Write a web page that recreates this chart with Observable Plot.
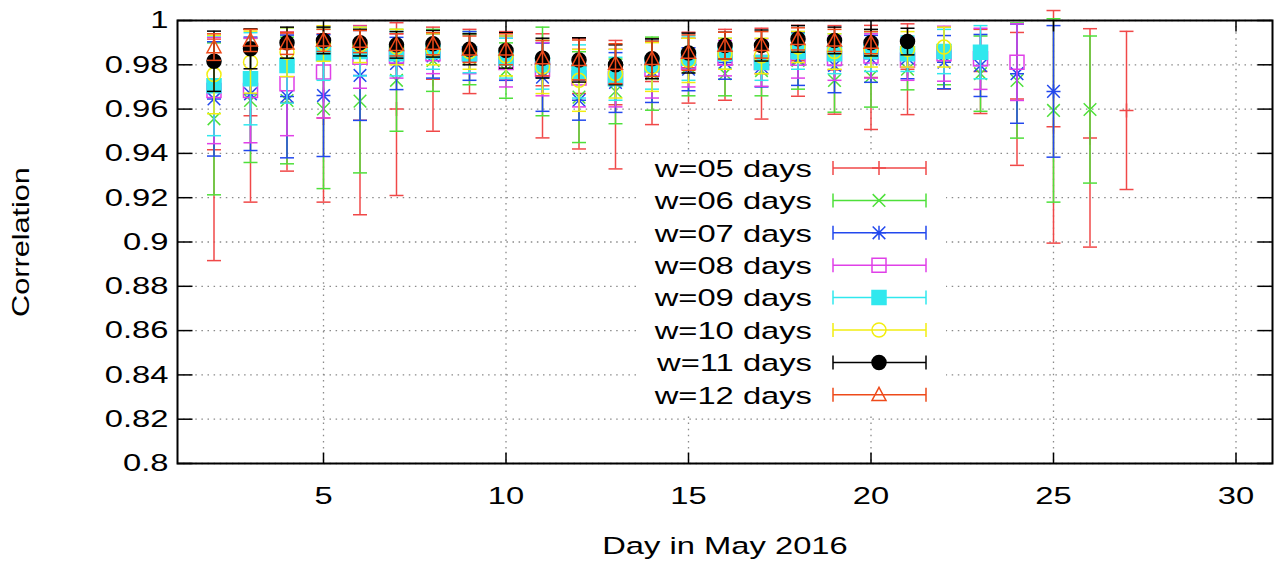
<!DOCTYPE html>
<html><head><meta charset="utf-8">
<script src="https://cdn.jsdelivr.net/npm/d3@7"></script>
<script src="https://cdn.jsdelivr.net/npm/@observablehq/plot@0.6"></script>
<style>html,body{margin:0;padding:0;background:#fff}#chart svg{display:block}</style>
</head><body><div id="chart"></div><script>
// ---------------- data ----------------
const days = [2,3,4,5,6,7,8,9,10,11,12,13,14,15,16,17,18,19,20,21,22,23,24,25,26,27];
const xTicks = [5,10,15,20,25,30];
const yTicks = [0.8,0.82,0.84,0.86,0.88,0.9,0.92,0.94,0.96,0.98,1];
const seriesNames = ["w=05 days","w=06 days","w=07 days","w=08 days","w=09 days","w=10 days","w=11 days","w=12 days"];
const seriesColors = ["#f04848","#4ee03a","#2248ee","#e040e8","#30e8ee","#f2ee10","#000000","#ee4a1a"];

const mean05 = [0.9416,0.957,0.963,0.956,0.955,0.960,0.9735,0.9815,0.984,0.9705,0.967,0.962,0.9725,0.9787,0.980,0.976,0.9818,0.9777,0.9743,0.978,0.983,0.977,0.9646,0.952,0.947,0.9594];
const err05  = [0.050,0.039,0.031,0.038,0.0427,0.039,0.0235,0.0145,0.011,0.0235,0.025,0.029,0.0195,0.016,0.016,0.0205,0.016,0.020,0.0235,0.0205,0.014,0.019,0.030,0.0525,0.0493,0.0357];
const mean06 = [0.9556,0.9639,0.9639,0.9601,0.9636,0.973,0.982,0.983,0.9774,0.977,0.9654,0.968,0.976,0.979,0.976,0.9774,0.982,0.9729,0.9747,0.978,0.984,0.976,0.9729,0.9594,0.9598];
const err06  = [0.0343,0.028,0.0286,0.036,0.0324,0.023,0.014,0.012,0.0125,0.020,0.0205,0.0146,0.0165,0.013,0.010,0.0114,0.013,0.0143,0.0138,0.0093,0.013,0.017,0.026,0.0414,0.0332];
const mean07 = [0.9646,0.9669,0.9657,0.9661,0.9752,0.9806,0.984,0.984,0.983,0.9744,0.964,0.972,0.977,0.978,0.981,0.979,0.9827,0.9797,0.9827,0.983,0.9812,0.9797,0.976,0.968];
const err07  = [0.0258,0.0256,0.0277,0.0275,0.0203,0.0118,0.010,0.011,0.010,0.0154,0.009,0.0135,0.014,0.0097,0.0075,0.009,0.012,0.0123,0.0106,0.0093,0.012,0.014,0.0224,0.0297];
const mean08 = [0.9684,0.9684,0.9714,0.9767,0.9834,0.984,0.985,0.985,0.981,0.978,0.974,0.974,0.978,0.981,0.983,0.981,0.983,0.983,0.984,0.982,0.985,0.9827,0.9812];
const err08  = [0.024,0.0236,0.0234,0.0207,0.014,0.010,0.009,0.009,0.011,0.012,0.013,0.013,0.013,0.011,0.008,0.0107,0.009,0.010,0.010,0.009,0.0124,0.0138,0.0173];
const mean09 = [0.9705,0.9737,0.9797,0.985,0.986,0.985,0.986,0.985,0.983,0.980,0.977,0.9737,0.980,0.983,0.985,0.981,0.986,0.985,0.986,0.985,0.986,0.9857];
const err09  = [0.0225,0.0208,0.017,0.012,0.011,0.010,0.008,0.0086,0.009,0.011,0.012,0.0097,0.011,0.010,0.007,0.008,0.008,0.009,0.009,0.008,0.010,0.012];
const mean10 = [0.9756,0.9812,0.9857,0.9896,0.989,0.988,0.987,0.986,0.984,0.979,0.973,0.976,0.979,0.982,0.985,0.984,0.988,0.986,0.987,0.987,0.988];
const err10  = [0.0177,0.014,0.011,0.008,0.008,0.008,0.007,0.008,0.009,0.012,0.014,0.011,0.011,0.010,0.007,0.008,0.007,0.008,0.008,0.008,0.009];
const mean11 = [0.9816,0.9872,0.990,0.991,0.990,0.989,0.9895,0.987,0.9865,0.983,0.9822,0.980,0.9827,0.9853,0.9887,0.9887,0.9917,0.991,0.990,0.9905];
const err11  = [0.0136,0.009,0.007,0.006,0.006,0.006,0.006,0.007,0.008,0.009,0.010,0.009,0.009,0.009,0.006,0.007,0.006,0.006,0.006,0.006];
const mean12 = [0.988,0.991,0.9897,0.991,0.9905,0.989,0.9895,0.987,0.987,0.983,0.9822,0.9805,0.9827,0.9855,0.9887,0.989,0.9917,0.991,0.990];
const err12  = [0.006,0.005,0.005,0.005,0.005,0.005,0.005,0.006,0.007,0.008,0.009,0.009,0.008,0.008,0.006,0.006,0.005,0.005,0.005];

const seriesMeans = [mean05,mean06,mean07,mean08,mean09,mean10,mean11,mean12];
const seriesErrs  = [err05,err06,err07,err08,err09,err10,err11,err12];

// ---------------- symbols ----------------
const H = 7;
const symPlus  = {draw(c){c.moveTo(-H,0);c.lineTo(H,0);c.moveTo(0,-H);c.lineTo(0,H);}};
const symTimes = {draw(c){const h=H*0.9;c.moveTo(-h,-h);c.lineTo(h,h);c.moveTo(-h,h);c.lineTo(h,-h);}};
const symStar  = {draw(c){const h=H*0.9;c.moveTo(-h,-h);c.lineTo(h,h);c.moveTo(-h,h);c.lineTo(h,-h);c.moveTo(-H,0);c.lineTo(H,0);c.moveTo(0,-H);c.lineTo(0,H);}};
const symSquare= {draw(c){c.moveTo(-H,-H);c.lineTo(H,-H);c.lineTo(H,H);c.lineTo(-H,H);c.closePath();}};
const symCircle= {draw(c){c.moveTo(H,0);c.arc(0,0,H,0,2*Math.PI);c.closePath();}};
const symTri   = {draw(c){c.moveTo(0,-H*1.05);c.lineTo(H,H*0.8);c.lineTo(-H,H*0.8);c.closePath();}};
const symCap   = {draw(c){c.moveTo(-7,0);c.lineTo(7,0);}};
const symVCap  = {draw(c){c.moveTo(0,-7);c.lineTo(0,7);}};
const tickBottom = {draw(c){c.moveTo(0,0);c.lineTo(0,-11);}};
const tickTop    = {draw(c){c.moveTo(0,0);c.lineTo(0,11);}};
const tickLeft   = {draw(c){c.moveTo(0,0);c.lineTo(15,0);}};
const tickRight  = {draw(c){c.moveTo(0,0);c.lineTo(-15,0);}};

const seriesSymbols = [symPlus,symTimes,symStar,symSquare,symSquare,symCircle,symCircle,symTri];
const seriesFilled  = [false,false,false,false,true,false,true,false];

// ---------------- marks ----------------
const grid = {stroke:"#8a8a8a", strokeWidth:1.3, strokeDasharray:"1.5,4.6"};
const marks = [
  Plot.ruleY(yTicks, {y: d => d, ...grid}),
  Plot.ruleX(xTicks, {x: d => d, ...grid})
];
seriesMeans.forEach((means, s) => {
  const rows = means.map((m, i) => ({day: days[i], mean: m, lo: m - seriesErrs[s][i], hi: m + seriesErrs[s][i]}));
  const col = seriesColors[s];
  marks.push(
    Plot.ruleX(rows, {x: "day", y1: "lo", y2: "hi", stroke: col, strokeWidth: 1.5}),
    Plot.dot(rows, {x: "day", y: "lo", symbol: symCap, r: 1, stroke: col, strokeWidth: 1.5, fill: "none"}),
    Plot.dot(rows, {x: "day", y: "hi", symbol: symCap, r: 1, stroke: col, strokeWidth: 1.5, fill: "none"}),
    Plot.dot(rows, {x: "day", y: "mean", symbol: seriesSymbols[s], r: 1, stroke: col, strokeWidth: 1.5,
                    fill: seriesFilled[s] ? col : "none"})
  );
});
marks.push(
  Plot.dot(xTicks, {x: d => d, frameAnchor: "bottom", symbol: tickBottom, r: 1, stroke: "black", strokeWidth: 1.5}),
  Plot.dot(xTicks, {x: d => d, frameAnchor: "top", symbol: tickTop, r: 1, stroke: "black", strokeWidth: 1.5}),
  Plot.dot(yTicks, {y: d => d, frameAnchor: "left", symbol: tickLeft, r: 1, stroke: "black", strokeWidth: 1.5}),
  Plot.dot(yTicks, {y: d => d, frameAnchor: "right", symbol: tickRight, r: 1, stroke: "black", strokeWidth: 1.5}),
  Plot.frame({stroke: "black", strokeWidth: 2})
);

const FONT = "'Liberation Sans', Arial, sans-serif";
const chart = Plot.plot({
  width: 1278, height: 565,
  marginLeft: 177, marginRight: 6, marginTop: 20, marginBottom: 102,
  style: {fontFamily: FONT, fontSize: "24.5px", color: "black", background: "white"},
  x: {domain: [1, 31], ticks: xTicks, tickSize: 0, tickPadding: 23, tickFormat: d => String(d),
      label: "Day in May 2016", labelAnchor: "center", labelOffset: 90},
  y: {domain: [0.8, 1], ticks: yTicks, tickSize: 0, tickPadding: 9, tickFormat: d => String(+d.toFixed(2)),
      label: "Correlation", labelAnchor: "center", labelOffset: 166},
  marks
});
document.getElementById("chart").append(chart);

// ---------------- legend (inside plot) ----------------
const svg = d3.select(chart);
const lg = svg.append("g").attr("class", "legend");
lg.append("rect").attr("x", 638).attr("y", 154).attr("width", 308).attr("height", 259).attr("fill", "white");
seriesNames.forEach((name, s) => {
  const y = 168 + s * 32.4;
  const col = seriesColors[s];
  lg.append("text").attr("x", 812).attr("y", y).attr("dy", "0.36em").attr("text-anchor", "end")
    .attr("font-family", FONT).attr("font-size", 24.5).attr("fill", "black").text(name);
  const g = lg.append("g").attr("stroke", col).attr("stroke-width", 1.5).attr("fill", "none");
  g.append("line").attr("x1", 833).attr("x2", 926).attr("y1", y).attr("y2", y);
  g.append("path").attr("transform", `translate(833,${y})`).attr("d", d3.symbol(symVCap, 1)());
  g.append("path").attr("transform", `translate(926,${y})`).attr("d", d3.symbol(symVCap, 1)());
  g.append("path").attr("transform", `translate(879,${y})`).attr("d", d3.symbol(seriesSymbols[s], 1)())
    .attr("fill", seriesFilled[s] ? col : "none");
});

// remove axis-label arrows, then stretch text horizontally like the reference rendering
svg.selectAll("text").each(function() {
  const t = this.textContent.replace(/\s*[→↑←↓]\s*/g, "").trim();
  if (t !== this.textContent) this.textContent = t;
  const len = this.getComputedTextLength();
  const k = t === "Correlation" ? 1.25 : 1.335;
  this.setAttribute("textLength", (len * k).toFixed(1));
  this.setAttribute("lengthAdjust", "spacingAndGlyphs");
});
</script></body></html>
